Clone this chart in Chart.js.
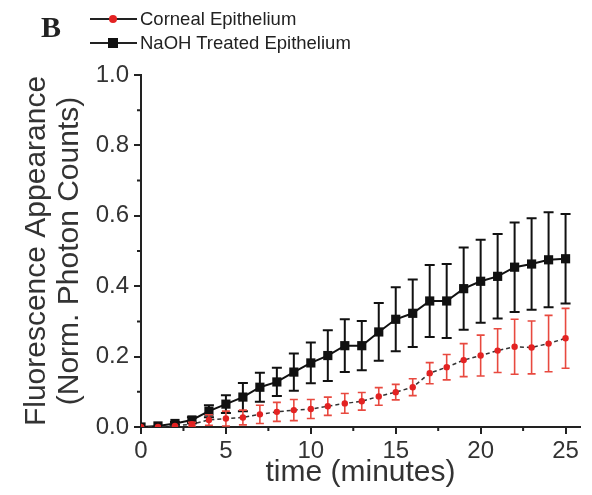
<!DOCTYPE html>
<html>
<head>
<meta charset="utf-8">
<script src="https://cdn.jsdelivr.net/npm/chart.js@4/dist/chart.umd.min.js"></script>
<style>
  html, body { margin: 0; padding: 0; background: #fff; }
  #wrap { position: relative; width: 592px; height: 495px; }
  #panel { position: absolute; left: 41px; top: 10px; font: bold 30px "Liberation Serif", "DejaVu Serif", serif; color: #222; }
  .leg { position: absolute; left: 90px; height: 20px; font: 18.5px "Liberation Sans", Arial, sans-serif; color: #222; }
  .leg .ln { position: absolute; left: 0; top: 9px; width: 47px; height: 2px; background: #222; }
  .leg .mk { position: absolute; }
  .leg .tx { position: absolute; left: 50px; top: 0; white-space: nowrap; line-height: 20px; }
</style>
</head>
<body>
<div id="wrap">
  <canvas id="c" width="592" height="495"></canvas>
  <div id="panel">B</div>
  <div class="leg" style="top:9px">
    <div class="ln"></div>
    <div class="mk" style="left:19px;top:6px;width:8px;height:8px;border-radius:50%;background:#e32222"></div>
    <div class="tx">Corneal Epithelium</div>
  </div>
  <div class="leg" style="top:33px">
    <div class="ln"></div>
    <div class="mk" style="left:18px;top:5px;width:10px;height:10px;background:#111"></div>
    <div class="tx">NaOH Treated Epithelium</div>
  </div>
</div>
<script>
// time points (minutes)
const minutes = [0,1,2,3,4,5,6,7,8,9,10,11,12,13,14,15,16,17,18,19,20,21,22,23,24,25];

// normalised photon counts, mean and error per time point
const cornealMean = [0, 0, 0.003, 0.008, 0.02, 0.024, 0.027, 0.036, 0.043, 0.048, 0.051, 0.059, 0.067, 0.073, 0.087, 0.099, 0.113, 0.153, 0.17, 0.19, 0.203, 0.217, 0.228, 0.226, 0.237, 0.252];
const cornealErr  = [0, 0, 0, 0.005, 0.015, 0.021, 0.021, 0.026, 0.027, 0.03, 0.027, 0.026, 0.028, 0.025, 0.025, 0.022, 0.024, 0.03, 0.036, 0.047, 0.058, 0.062, 0.078, 0.075, 0.08, 0.085];

const naohMean = [0, 0.003, 0.01, 0.02, 0.045, 0.065, 0.085, 0.113, 0.128, 0.156, 0.182, 0.203, 0.231, 0.231, 0.27, 0.306, 0.323, 0.358, 0.358, 0.393, 0.414, 0.428, 0.454, 0.463, 0.475, 0.478];
const naohErr  = [0, 0, 0.004, 0.008, 0.017, 0.025, 0.04, 0.041, 0.04, 0.053, 0.058, 0.072, 0.075, 0.07, 0.082, 0.091, 0.096, 0.102, 0.105, 0.117, 0.118, 0.12, 0.127, 0.13, 0.135, 0.127];

// axis ticks
const xMajorTicks = [0, 5, 10, 15, 20, 25];
const xMinorTicks = [2.5, 7.5, 12.5, 17.5, 22.5];
const yMajorTicks = [0, 0.2, 0.4, 0.6, 0.8, 1.0];
const yMinorTicks = [0.1, 0.3, 0.5, 0.7, 0.9];

const toPoints = (xs, ys) => xs.map((x, i) => ({ x: x, y: ys[i] }));

// vertical error bars with caps, drawn under each dataset's markers
const errorBars = {
  id: 'errorBars',
  beforeDatasetDraw(chart, args) {
    const ds = chart.data.datasets[args.index];
    if (!ds.errors) return;
    const { ctx, scales: { x, y } } = chart;
    ctx.save();
    ctx.strokeStyle = ds.errorColor;
    ctx.lineWidth = ds.errorWidth;
    const half = ds.capWidth / 2;
    ds.data.forEach((p, i) => {
      const e = ds.errors[i];
      if (!e) return;
      const px = x.getPixelForValue(p.x);
      const top = y.getPixelForValue(p.y + e);
      const bot = y.getPixelForValue(p.y - e);
      ctx.beginPath();
      ctx.moveTo(px, top); ctx.lineTo(px, bot);
      ctx.moveTo(px - half, top); ctx.lineTo(px + half, top);
      ctx.moveTo(px - half, bot); ctx.lineTo(px + half, bot);
      ctx.stroke();
    });
    ctx.restore();
  }
};

// short minor tick marks on both axes
const minorTicks = {
  id: 'minorTicks',
  afterDraw(chart) {
    const { ctx, chartArea, scales: { x, y } } = chart;
    ctx.save();
    ctx.strokeStyle = '#222';
    ctx.lineWidth = 2;
    ctx.beginPath();
    xMinorTicks.forEach(v => {
      const px = x.getPixelForValue(v);
      ctx.moveTo(px, chartArea.bottom);
      ctx.lineTo(px, chartArea.bottom + 4);
    });
    yMinorTicks.forEach(v => {
      const py = y.getPixelForValue(v);
      ctx.moveTo(chartArea.left, py);
      ctx.lineTo(chartArea.left - 4, py);
    });
    ctx.stroke();
    ctx.restore();
  }
};

const tickFont = { family: '"Liberation Sans", Arial, sans-serif', size: 24 };

new Chart(document.getElementById('c'), {
  type: 'scatter',
  data: {
    datasets: [
      {
        label: 'Corneal Epithelium',
        data: toPoints(minutes, cornealMean),
        errors: cornealErr,
        errorColor: '#e8493f',
        errorWidth: 1.6,
        capWidth: 8,
        showLine: true,
        borderColor: '#333',
        borderWidth: 1.5,
        borderDash: [4, 3],
        pointStyle: 'circle',
        pointRadius: 3.2,
        pointBackgroundColor: '#e32222',
        pointBorderColor: '#e32222',
        pointBorderWidth: 0
      },
      {
        label: 'NaOH Treated Epithelium',
        data: toPoints(minutes, naohMean),
        errors: naohErr,
        errorColor: '#111',
        errorWidth: 2,
        capWidth: 10,
        showLine: true,
        borderColor: '#111',
        borderWidth: 2,
        pointStyle: 'rect',
        pointRadius: 6.5,
        pointBackgroundColor: '#111',
        pointBorderColor: '#111',
        pointBorderWidth: 0
      }
    ]
  },
  options: {
    responsive: false,
    animation: false,
    layout: { padding: { top: 75, right: 12, left: 0, bottom: 0 } },
    plugins: { legend: { display: false }, tooltip: { enabled: false } },
    scales: {
      x: {
        type: 'linear',
        min: 0,
        max: 25.85,
        afterBuildTicks: s => { s.ticks = xMajorTicks.map(v => ({ value: v })); },
        afterFit: s => { s.height = 68; },
        grid: { drawOnChartArea: false, drawTicks: true, tickLength: 7, color: '#222', lineWidth: 2 },
        border: { display: true, color: '#222', width: 2 },
        ticks: { font: tickFont, color: '#333', padding: 3, maxRotation: 0 },
        title: {
          display: true,
          text: 'time (minutes)',
          font: { family: '"Liberation Sans", Arial, sans-serif', size: 30, lineHeight: 1.1 },
          color: '#333',
          padding: { top: 0, bottom: 6 }
        }
      },
      y: {
        min: 0,
        max: 1,
        afterBuildTicks: s => { s.ticks = yMajorTicks.map(v => ({ value: v })); },
        afterFit: s => { s.width = 141; },
        grid: { drawOnChartArea: false, drawTicks: true, tickLength: 7, color: '#222', lineWidth: 2 },
        border: { display: true, color: '#222', width: 2 },
        ticks: { font: tickFont, color: '#333', padding: 5, callback: v => v.toFixed(1) },
        title: {
          display: true,
          text: ['Fluorescence Appearance', '(Norm. Photon Counts)'],
          font: { family: '"Liberation Sans", Arial, sans-serif', size: 30, lineHeight: 1.1 },
          color: '#333',
          padding: { top: 20, bottom: 0 }
        }
      }
    }
  },
  plugins: [errorBars, minorTicks]
});
</script>
</body>
</html>
